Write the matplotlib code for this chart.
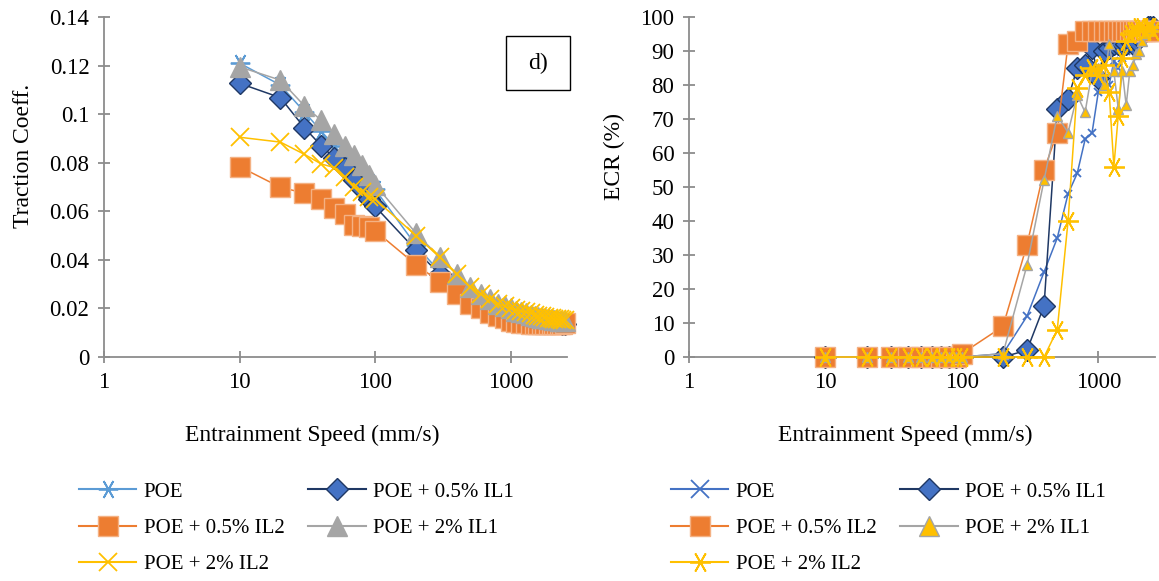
import matplotlib
matplotlib.use("Agg")
import matplotlib.pyplot as plt
from matplotlib.lines import Line2D
from matplotlib.patches import Rectangle
from matplotlib.ticker import FixedLocator, FixedFormatter, NullLocator

plt.rcParams['font.family'] = ['Liberation Serif', 'DejaVu Serif']

# Entrainment speed (mm/s)
speed = [10, 20, 30, 40, 50, 60, 70, 80, 90, 100,
         200, 300, 400, 500, 600, 700, 800, 900, 1000,
         1100, 1200, 1300, 1400, 1500, 1600, 1700, 1800, 1900, 2000,
         2100, 2200, 2300, 2400, 2500]

labels = ["POE", "POE + 0.5% IL1", "POE + 0.5% IL2", "POE + 2% IL1", "POE + 2% IL2"]

# Traction coefficient (left panel)
tc_poe = [0.121, 0.112, 0.101, 0.093, 0.087, 0.082, 0.078, 0.075, 0.072, 0.069,
          0.046, 0.035, 0.029, 0.025, 0.022, 0.020, 0.018, 0.017, 0.016,
          0.0155, 0.015, 0.0148, 0.0146, 0.0144, 0.0142, 0.014, 0.0139, 0.0138, 0.0137,
          0.0136, 0.0136, 0.0135, 0.0135, 0.0135]
tc_il1 = [0.1127, 0.1068, 0.0945, 0.087, 0.082, 0.078, 0.073, 0.069, 0.065, 0.062,
          0.044, 0.034, 0.028, 0.024, 0.021, 0.019, 0.018, 0.017, 0.016,
          0.0155, 0.015, 0.0148, 0.0146, 0.0145, 0.0144, 0.0143, 0.0142, 0.0141, 0.014,
          0.014, 0.0139, 0.0139, 0.0138, 0.0138]
tc_il2 = [0.0784, 0.0699, 0.0675, 0.065, 0.0615, 0.059, 0.0545, 0.054, 0.0535, 0.052,
          0.038, 0.031, 0.026, 0.022, 0.020, 0.018, 0.017, 0.016, 0.015,
          0.0145, 0.0142, 0.014, 0.0138, 0.0137, 0.0136, 0.0135, 0.0134, 0.0134, 0.0134,
          0.0134, 0.0135, 0.0135, 0.0136, 0.014]
tc_2il1 = [0.1195, 0.114, 0.1035, 0.0975, 0.092, 0.087, 0.083, 0.079, 0.075, 0.071,
           0.051, 0.041, 0.034, 0.029, 0.026, 0.024, 0.022, 0.021, 0.020,
           0.019, 0.0185, 0.018, 0.0175, 0.017, 0.0166, 0.0162, 0.016, 0.0158, 0.0156,
           0.0154, 0.0152, 0.015, 0.015, 0.0148]
tc_2il2 = [0.0905, 0.0885, 0.0835, 0.0795, 0.078, 0.074, 0.070, 0.068, 0.066, 0.065,
           0.050, 0.041, 0.034, 0.029, 0.026, 0.024, 0.022, 0.021, 0.020,
           0.0195, 0.019, 0.0185, 0.018, 0.0175, 0.017, 0.0168, 0.0165, 0.0162, 0.016,
           0.0158, 0.0156, 0.0155, 0.0154, 0.0153]

# ECR % (right panel)
ecr_poe = [0, 0, 0, 0, 0, 0, 0, 0, 0, 0,
           1, 12, 25, 35, 48, 54, 64, 66, 78,
           82, 80, 87, 85, 88, 90, 90, 91, 92, 93,
           94, 95, 96, 96, 97]
ecr_il1 = [0, 0, 0, 0, 0, 0, 0, 0, 0, 0,
           0, 2, 15, 73, 76, 85, 86, 91, 82,
           90, 91, 92, 92, 92, 92, 93, 92, 93, 94,
           95, 96, 97, 97, 97]
ecr_il2 = [0, 0, 0, 0, 0, 0, 0, 0, 0, 1,
           9, 33, 55, 66, 92, 93, 96, 96, 96,
           96, 96, 96, 96, 96, 96, 96, 96, 96, 96,
           96, 96, 96, 96, 96]
ecr_2il1 = [0, 0, 0, 0, 0, 0, 0, 0, 0, 0,
            1, 27, 52, 71, 66, 77, 72, 84, 85,
            80, 92, 84, 73, 84, 74, 84, 86, 89, 90,
            93, 95, 96, 97, 97]
ecr_2il2 = [0, 0, 0, 0, 0, 0, 0, 0, 0, 0,
            0, 0, 0, 8, 40, 79, 83, 85, 83,
            86, 78, 56, 71, 88, 93, 95, 96, 96, 97,
            97, 96, 97, 97, 96]

axis_grey = "#8c8c8c"
asterisk = (6, 2, 90)

fig = plt.figure(figsize=(11.59, 5.81), dpi=100)
ax1 = fig.add_axes([0.0897, 0.3855, 0.3995, 0.5852])
ax2 = fig.add_axes([0.5945, 0.3855, 0.402, 0.5852])

# (line colour, marker, size, face, edge)
left_styles = [
    ("#5B9BD5", asterisk, 14, "#5B9BD5", "#5B9BD5"),
    ("#1F3864", "D", 11, "#4472C4", "#1F3864"),
    ("#ED7D31", "s", 14, "#ED7D31", "#F4B183"),
    ("#A5A5A5", "^", 15, "#A5A5A5", "#A5A5A5"),
    ("#FFC000", "x", 13, "#FFC000", "#FFC000"),
]
right_styles = [
    ("#4472C4", "x", 6, "#4472C4", "#4472C4"),
    ("#1F3864", "D", 11, "#4472C4", "#1F3864"),
    ("#ED7D31", "s", 14, "#ED7D31", "#F4B183"),
    ("#A5A5A5", "^", 7, "#FFC000", "#A5A5A5"),
    ("#FFC000", asterisk, 15, "#FFC000", "#FFC000"),
]
legend_sizes_right = [13, 11, 14, 15, 15]

left_data = [tc_poe, tc_il1, tc_il2, tc_2il1, tc_2il2]
right_data = [ecr_poe, ecr_il1, ecr_il2, ecr_2il1, ecr_2il2]

for i, (ys, st) in enumerate(zip(left_data, left_styles)):
    c, m, ms, fc, ec = st
    ax1.plot(speed, ys, color=c, lw=1.1, marker=m, ms=ms, mfc=fc, mec=ec,
             mew=1.3 if m in ("x", asterisk) else 1.0, zorder=3 + i, clip_on=False)

for i, (ys, st) in enumerate(zip(right_data, right_styles)):
    c, m, ms, fc, ec = st
    ax2.plot(speed, ys, color=c, lw=1.1, marker=m, ms=ms, mfc=fc, mec=ec,
             mew=1.3 if m in ("x", asterisk) else 1.0, zorder=3 + i, clip_on=False)

for ax in (ax1, ax2):
    ax.set_xscale("log")
    ax.set_xlim(1, 2600)
    ax.xaxis.set_major_locator(FixedLocator([1, 10, 100, 1000]))
    ax.xaxis.set_major_formatter(FixedFormatter(["1", "10", "100", "1000"]))
    ax.xaxis.set_minor_locator(NullLocator())
    for s in ("top", "right"):
        ax.spines[s].set_visible(False)
    for s in ("left", "bottom"):
        ax.spines[s].set_color(axis_grey)
        ax.spines[s].set_linewidth(1.3)
    ax.tick_params(direction="inout", length=9, width=1.3, color=axis_grey,
                   labelsize=16.5, pad=6)
    ax.set_xlabel("Entrainment Speed (mm/s)", fontsize=17)

ax1.set_ylim(0, 0.14)
yt1 = [0, 0.02, 0.04, 0.06, 0.08, 0.1, 0.12, 0.14]
ax1.yaxis.set_major_locator(FixedLocator(yt1))
ax1.yaxis.set_major_formatter(FixedFormatter(["0", "0.02", "0.04", "0.06", "0.08", "0.1", "0.12", "0.14"]))
ax1.set_ylabel("Traction Coeff.", fontsize=17)
ax1.yaxis.set_label_coords(-0.151, 0.59)
ax1.xaxis.set_label_coords(0.45, -0.2)

ax2.set_ylim(0, 100)
ax2.yaxis.set_major_locator(FixedLocator(list(range(0, 101, 10))))
ax2.set_ylabel("ECR (%)", fontsize=17)
ax2.yaxis.set_label_coords(-0.137, 0.59)
ax2.xaxis.set_label_coords(0.464, -0.2)

# panel tag box
fig.patches.append(Rectangle((506 / 1159, 1 - 90 / 581), 64 / 1159, 54 / 581,
                             transform=fig.transFigure, fill=False, ec="black", lw=1.0))
fig.text(538 / 1159, 1 - 63 / 581, "d)", ha="center", va="center", fontsize=17)

# legends, row-wise order
order = [0, 2, 4, 1, 3]

def make_handles(styles, sizes):
    hs = []
    for i in order:
        c, m, ms, fc, ec = styles[i]
        hs.append(Line2D([], [], color=c, lw=1.5, marker=m, ms=sizes[i], mfc=fc, mec=ec,
                         mew=1.3 if m in ("x", asterisk) else 1.0))
    return hs

left_h = make_handles(left_styles, [s[2] for s in left_styles])
right_h = make_handles(right_styles, legend_sizes_right)
lab = [labels[i] for i in order]

for hs, x0 in ((left_h, 79 / 1159), (right_h, 671 / 1159)):
    fig.legend(hs, lab, loc="upper left", bbox_to_anchor=(x0, 1 - 482 / 581),
               ncol=2, frameon=False, fontsize=15, handlelength=2.75,
               handletextpad=0.35, columnspacing=1.15, labelspacing=0.8,
               borderpad=0, borderaxespad=0)

fig.savefig("out.png", dpi=100)
